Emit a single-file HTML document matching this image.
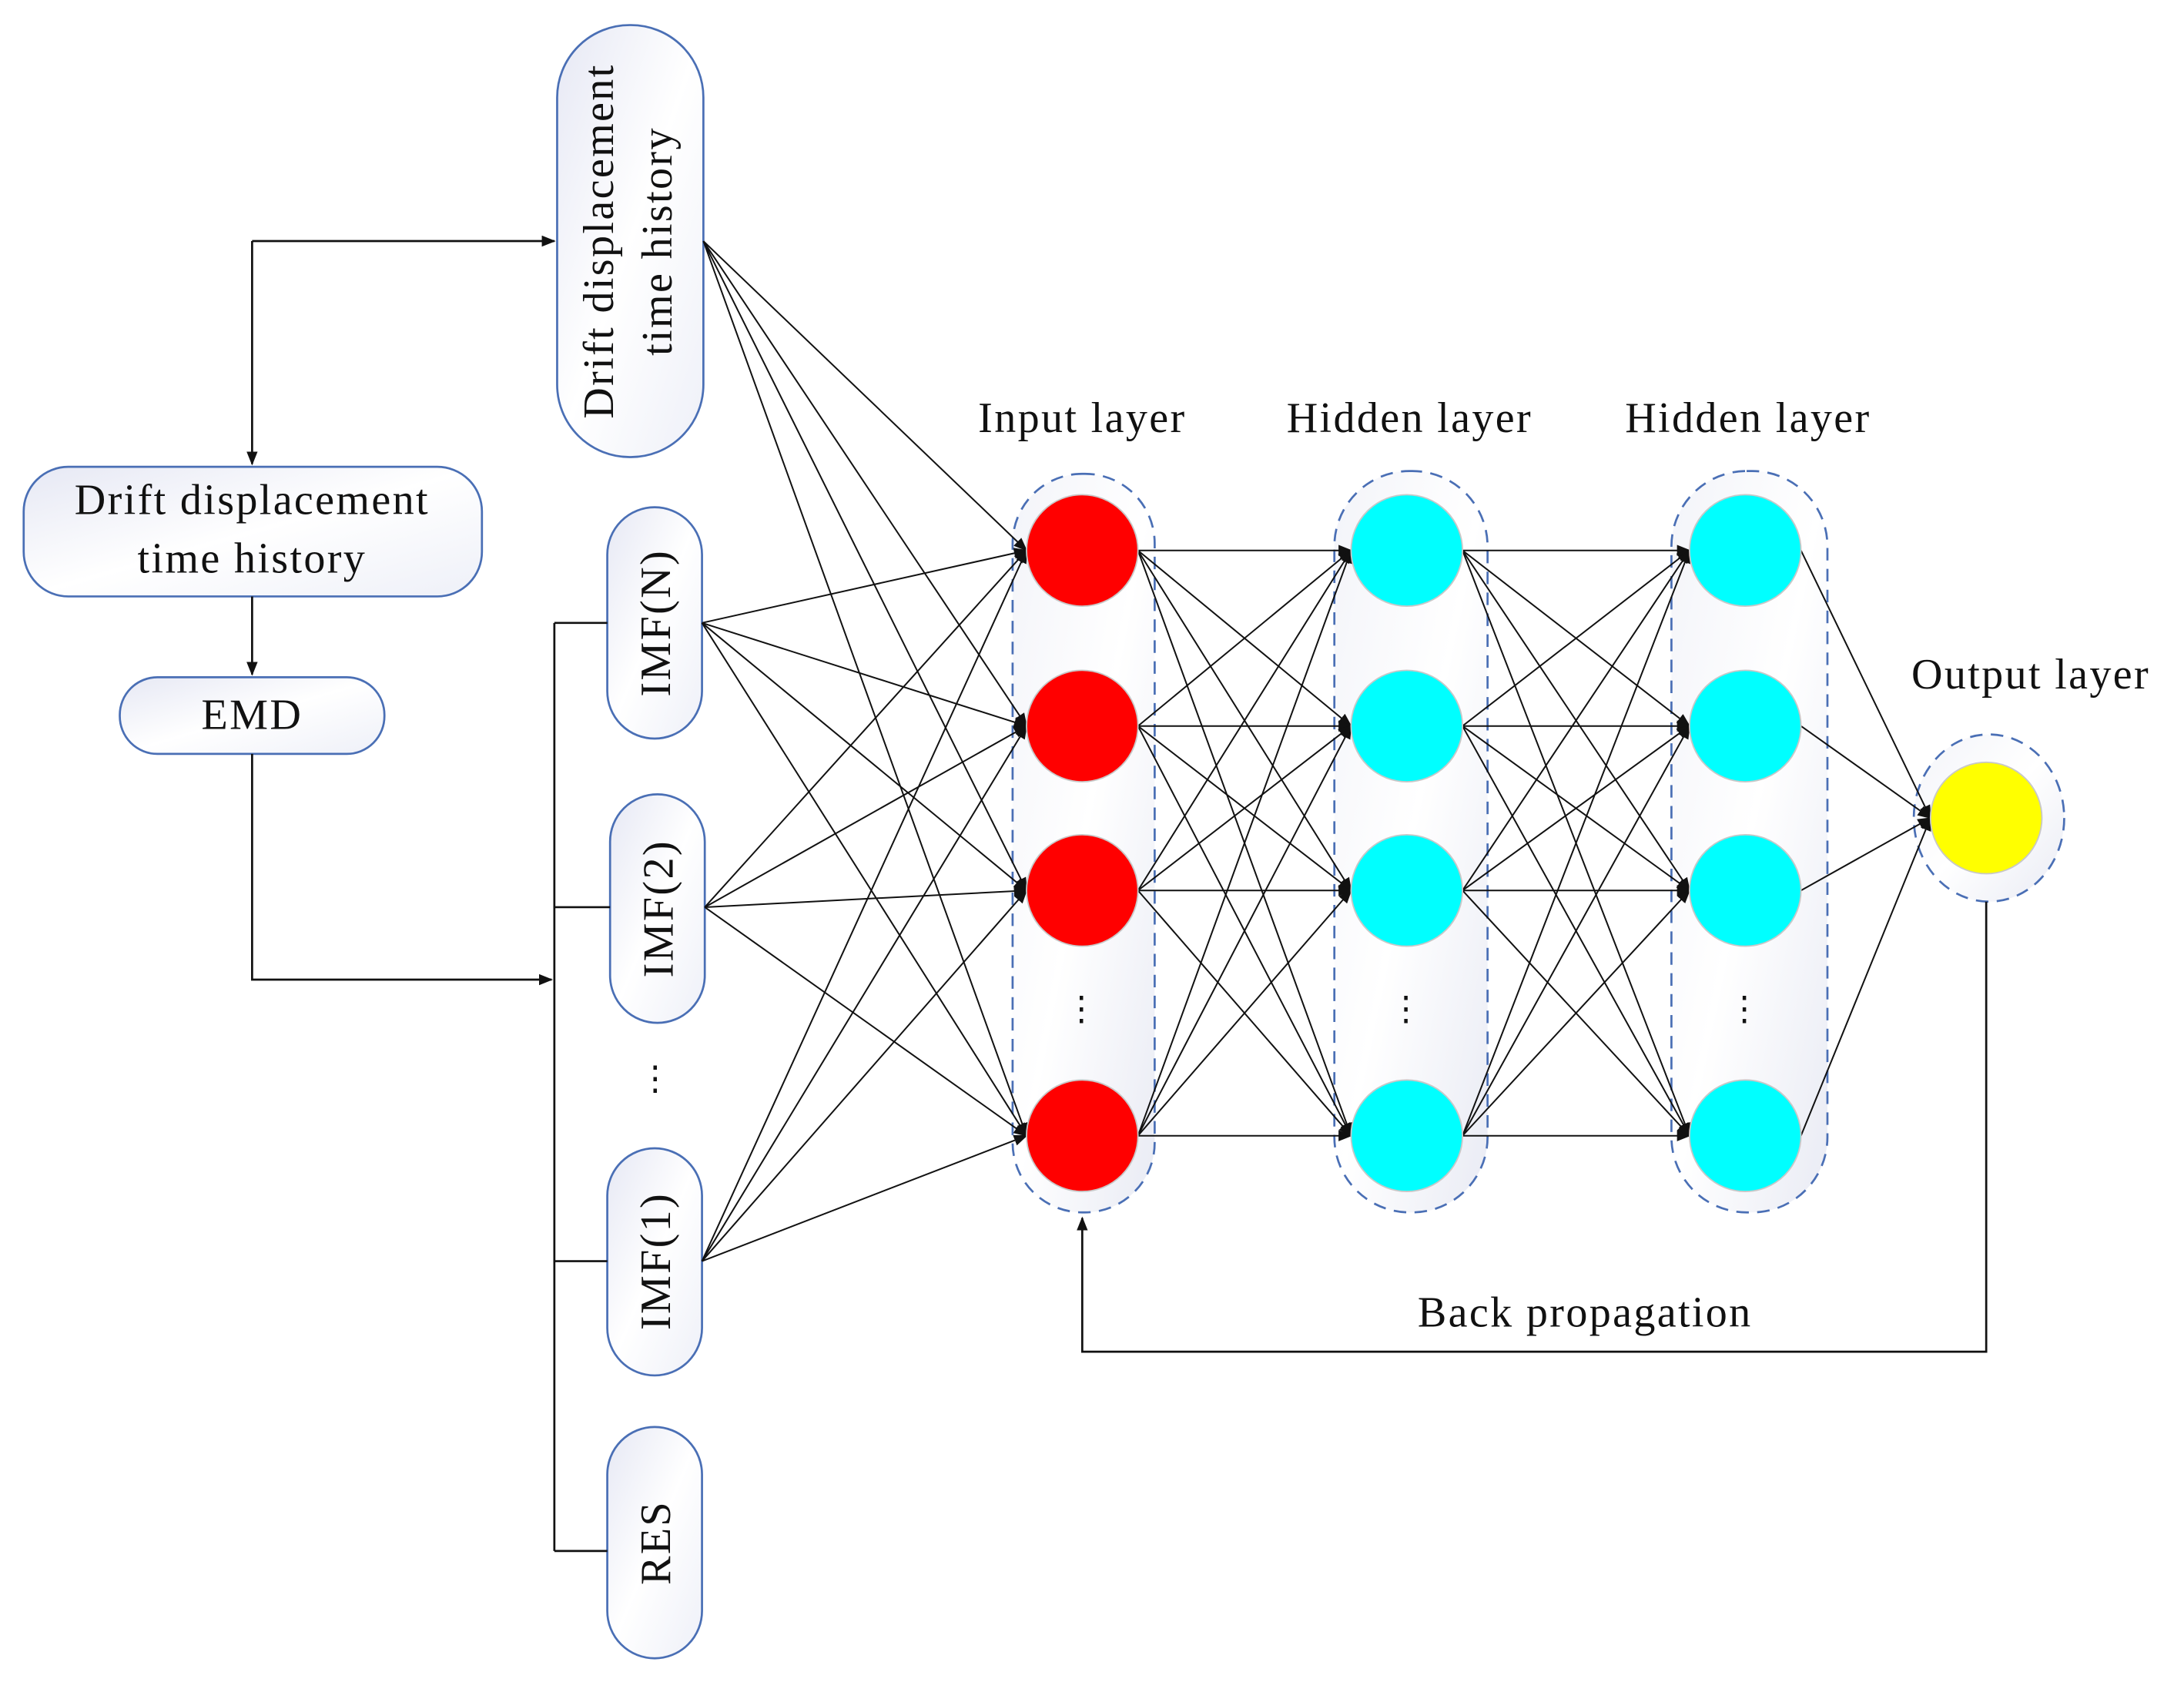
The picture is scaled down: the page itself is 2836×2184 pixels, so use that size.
<!DOCTYPE html>
<html><head><meta charset="utf-8"><style>
html,body{margin:0;padding:0;background:#fff;}
svg{display:block;}
text{font-family:"Liberation Serif",serif;fill:#111;font-size:31px;letter-spacing:1.3px;}
</style></head><body>
<svg id="s" width="2836" height="2184" viewBox="0 0 1568 1207" preserveAspectRatio="none" xmlns="http://www.w3.org/2000/svg">
<defs>
<linearGradient id="pg" x1="0" y1="0" x2="1" y2="1"><stop offset="0" stop-color="#e6e8f4"/><stop offset="0.5" stop-color="#ffffff"/><stop offset="1" stop-color="#eef0f8"/></linearGradient>
<linearGradient id="cg" x1="0" y1="0" x2="1" y2="1"><stop offset="0" stop-color="#f3f4f9"/><stop offset="0.5" stop-color="#ffffff"/><stop offset="1" stop-color="#e9ebf4"/></linearGradient>
<marker id="a" markerWidth="10" markerHeight="8" refX="9" refY="4" orient="auto" markerUnits="userSpaceOnUse"><path d="M0,0 L10,4 L0,8 Z" fill="#111"/></marker>
</defs>
<rect x="727" y="340" width="102" height="530" rx="50" fill="url(#cg)" stroke="#4a6fb5" stroke-width="1.5" stroke-dasharray="9,6"/>
<rect x="958" y="338" width="110" height="532" rx="54" fill="url(#cg)" stroke="#4a6fb5" stroke-width="1.5" stroke-dasharray="9,6"/>
<rect x="1200" y="338" width="112" height="532" rx="54" fill="url(#cg)" stroke="#4a6fb5" stroke-width="1.5" stroke-dasharray="9,6"/>
<ellipse cx="1428" cy="587" rx="54" ry="60" fill="url(#cg)" stroke="#4a6fb5" stroke-width="1.5" stroke-dasharray="9,6"/>
<rect x="400" y="18" width="105" height="310" rx="52" fill="url(#pg)" stroke="#4a6fb5" stroke-width="1.5"/>
<rect x="17" y="335" width="329" height="93" rx="32" fill="url(#pg)" stroke="#4a6fb5" stroke-width="1.5"/>
<rect x="86" y="486" width="190" height="55" rx="27" fill="url(#pg)" stroke="#4a6fb5" stroke-width="1.5"/>
<rect x="436" y="364" width="68" height="166" rx="34" fill="url(#pg)" stroke="#4a6fb5" stroke-width="1.5"/>
<rect x="438" y="570" width="68" height="164" rx="34" fill="url(#pg)" stroke="#4a6fb5" stroke-width="1.5"/>
<rect x="436" y="824" width="68" height="163" rx="34" fill="url(#pg)" stroke="#4a6fb5" stroke-width="1.5"/>
<rect x="436" y="1024" width="68" height="166" rx="34" fill="url(#pg)" stroke="#4a6fb5" stroke-width="1.5"/>
<g stroke="#111" stroke-width="1.5" fill="none">
<path d="M181,173 H398" marker-end="url(#a)"/>
<path d="M181,173 V333" marker-end="url(#a)"/>
<path d="M181,428 V484" marker-end="url(#a)"/>
<path d="M181,541 V703 H396" marker-end="url(#a)"/>
<path d="M398,447 V1113"/>
<path d="M398,447 H436 M398,651 H438 M398,905 H436 M398,1113 H436"/>
<path d="M1426,647 V970 H777 V874" marker-end="url(#a)"/>
</g>
<g id="lines" stroke="#111" stroke-width="1.1" fill="none"></g>
<g id="nodes"></g>
<text transform="translate(440,173) rotate(-90)" text-anchor="middle">Drift displacement</text>
<text transform="translate(482,173) rotate(-90)" text-anchor="middle">time history</text>
<text x="181" y="369" text-anchor="middle">Drift displacement</text>
<text x="181" y="411" text-anchor="middle">time history</text>
<text x="181" y="523" text-anchor="middle">EMD</text>
<text transform="translate(481,447) rotate(-90)" text-anchor="middle">IMF(N)</text>
<text transform="translate(483,652) rotate(-90)" text-anchor="middle">IMF(2)</text>
<text transform="translate(481,905) rotate(-90)" text-anchor="middle">IMF(1)</text>
<text transform="translate(481,1107) rotate(-90)" text-anchor="middle">RES</text>
<text x="471" y="782" text-anchor="middle" style="font-size:24px">⋮</text>
<text x="777" y="310" text-anchor="middle">Input layer</text>
<text x="1012" y="310" text-anchor="middle">Hidden layer</text>
<text x="1255" y="310" text-anchor="middle">Hidden layer</text>
<text x="1458" y="494" text-anchor="middle">Output layer</text>
<text x="1138" y="952" text-anchor="middle">Back propagation</text>
<text x="777" y="732" text-anchor="middle" style="font-size:24px">⋮</text>
<text x="1010" y="732" text-anchor="middle" style="font-size:24px">⋮</text>
<text x="1253" y="732" text-anchor="middle" style="font-size:24px">⋮</text>
</svg>
<script>
var NS="http://www.w3.org/2000/svg";
var L=document.getElementById("lines"),N=document.getElementById("nodes");
var ys=[395,521,639,815],r=40;
function ln(x1,y1,x2,y2){var e=document.createElementNS(NS,"line");e.setAttribute("x1",x1);e.setAttribute("y1",y1);e.setAttribute("x2",x2);e.setAttribute("y2",y2);e.setAttribute("marker-end","url(#a)");L.appendChild(e);}
var src=[[505,173],[504,447],[506,651],[504,905]];
src.forEach(function(s){ys.forEach(function(y){ln(s[0],s[1],777-r,y);});});
[[777,1010],[1010,1253]].forEach(function(p){ys.forEach(function(a){ys.forEach(function(b){ln(p[0]+r,a,p[1]-r,b);});});});
ys.forEach(function(y){ln(1293,y,1386,587);});
function c(x,y,f){var e=document.createElementNS(NS,"ellipse");e.setAttribute("cx",x);e.setAttribute("cy",y);e.setAttribute("rx",40);e.setAttribute("ry",40);e.setAttribute("fill",f);e.setAttribute("stroke","#c8c8c8");e.setAttribute("stroke-width","1");N.appendChild(e);}
ys.forEach(function(y){c(777,y,"#ff0000");c(1010,y,"#00ffff");c(1253,y,"#00ffff");});
c(1426,587,"#ffff00");
</script>
</body></html>
